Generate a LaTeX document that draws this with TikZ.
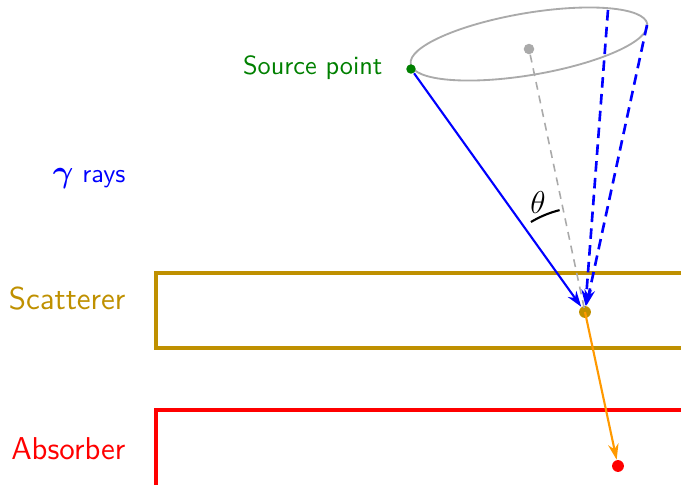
\documentclass[tikz,border=0pt]{standalone}
\usepackage{amsmath}
\usepackage{bm}
\usetikzlibrary{arrows.meta}
\definecolor{scatcol}{HTML}{BF9000}
\definecolor{abscol}{HTML}{FF0000}
\definecolor{raycol}{HTML}{0000FF}
\definecolor{srccol}{HTML}{008000}
\definecolor{outcol}{HTML}{FF9900}
\definecolor{conecol}{HTML}{AAAAAA}

\begin{document}
\begin{tikzpicture}[
    >={Stealth[length=6pt, width=4pt]},
    x=0.38pt, y=-0.38pt,
    font=\sffamily,
    dot/.style={circle, minimum size=4pt, inner sep=0pt},
    ray/.style={->, draw=raycol, line width=0.8pt},
    detector/.style={line width=1.2pt},
    label/.style={anchor=east, inner sep=0pt, font=\sffamily\large},
]

\useasboundingbox (0,0) rectangle (681,484);
\clip (0,0) rectangle (681,484);

% ── Detector planes ──
\draw[detector, draw=scatcol] (720,273) -| (156,348) -- (720,348);
\draw[detector, draw=abscol] (156,520) |- (720,410);
\node[label, text=scatcol] (scatlbl) at (126,299) {Scatterer};
\node[label, text=abscol] (abslbl) at (126,449) {Absorber};
\node[anchor=east, inner sep=0pt, text=raycol] (raylbl) at (126,179)
    {\large$\bm{\gamma}$\normalsize\ rays};

% ── Compton cone ──
\draw[draw=conecol, line width=0.7pt, rotate around={9.6:(529,44)}]
    (529,44) ellipse (120 and 31);
\node[dot, fill=conecol] (axis) at (529,49) {};
\coordinate (rimA) at (608,10);
\coordinate (rimB) at (647,25);

% ── Interaction points ──
\node[dot, fill=scatcol, minimum size=4.5pt] (hit1) at (585,312) {};
\node[dot, fill=abscol, minimum size=4.5pt] (hit2) at (618,466) {};
\node[dot, fill=srccol, minimum size=3.6pt] (src) at (411,69) {};
\node[anchor=east, inner sep=0pt, text=srccol] (srclbl) at (383,68) {Source point};

% ── Rays ──
\draw[draw=conecol, dash pattern=on 3pt off 2.3pt, line width=0.6pt]
    (axis) -- (hit1.center);
\draw[ray, line width=1pt, dash pattern=on 4pt off 2.4pt] (rimA) -- (hit1);
\draw[ray, line width=1pt, dash pattern=on 4pt off 2.4pt] (rimB) -- (hit1);
\draw[ray] (src) -- (hit1);
\draw[->, draw=outcol, line width=0.8pt] (hit1.center) -- (hit2);

% scattering angle
\draw[line width=0.8pt] (hit1.center) ++(-121:105) arc (-121:-104:105);
\node[font=\large] (theta) at (538,203) {$\theta$};

\end{tikzpicture}
\end{document}
